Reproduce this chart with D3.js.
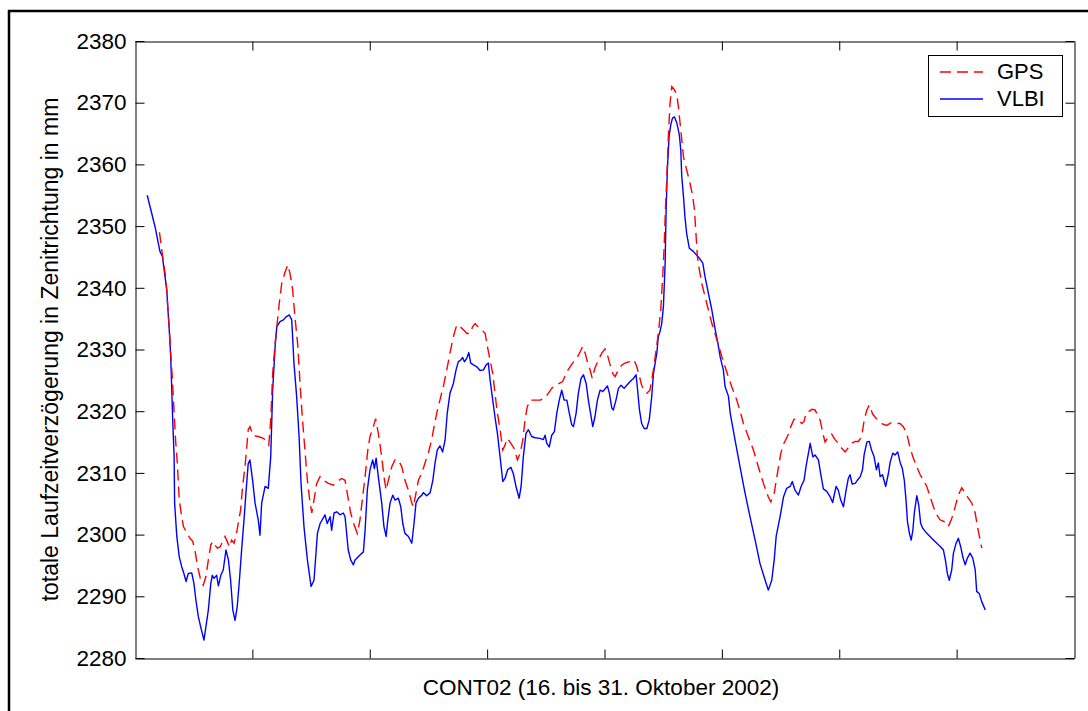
<!DOCTYPE html>
<html>
<head>
<meta charset="utf-8">
<script src="https://cdn.jsdelivr.net/npm/d3@7"></script>
<style>
  html, body { margin: 0; padding: 0; background: #fff; }
  svg { display: block; }
  text { font-family: "Liberation Sans", Arial, Helvetica, sans-serif; fill: #000; }
</style>
</head>
<body>
<svg id="chart" width="1088" height="711"></svg>
<script>
// Zenith total delay, CONT02 campaign. x = hours since 16 Oct 2002 00:00, y = mm
const seriesNames = ["GPS", "VLBI"];
const yTicks = [2280, 2290, 2300, 2310, 2320, 2330, 2340, 2350, 2360, 2370, 2380];
const xTicks = [48, 96, 144, 192, 240, 288, 336];
const xLabel = "CONT02 (16. bis 31. Oktober 2002)";
const yLabel = "totale Laufzeitverzögerung in Zenitrichtung in mm";

const gps = [
  [10.0,2349.0],[11.6,2344.2],[12.7,2341.3],[13.4,2336.9],[14.0,2333.7],[14.6,2329.4],[15.3,2325.1],
  [16.0,2319.7],[16.6,2315.3],[17.3,2311.6],[18.1,2305.6],[19.1,2302.9],[19.8,2301.3],[20.9,2300.5],
  [22.5,2299.4],[23.6,2298.9],[24.5,2297.5],[25.6,2294.8],[26.9,2292.6],[27.9,2291.8],[29.0,2293.2],
  [30.0,2295.9],[31.0,2298.3],[31.8,2298.9],[32.7,2298.3],[33.7,2297.8],[34.8,2298.0],[35.9,2298.9],
  [36.8,2299.7],[37.7,2298.9],[38.6,2298.0],[39.5,2299.1],[40.5,2298.6],[41.3,2299.7],[42.2,2301.8],
  [43.2,2304.0],[44.0,2307.8],[45.0,2311.0],[45.7,2314.2],[46.3,2317.0],[47.0,2317.5],[48.4,2316.0],
  [50.4,2315.9],[52.5,2315.6],[53.9,2315.1],[54.7,2314.5],[55.5,2318.6],[56.3,2326.1],[57.3,2331.0],
  [58.0,2333.7],[59.0,2337.5],[60.0,2340.7],[61.4,2342.6],[62.5,2343.7],[63.4,2342.3],[64.5,2339.6],
  [65.4,2335.3],[66.5,2331.0],[67.5,2324.5],[68.4,2319.1],[69.5,2313.7],[70.5,2308.8],[71.6,2305.1],
  [72.3,2303.5],[73.2,2305.6],[74.3,2308.3],[75.7,2309.4],[77.0,2308.8],[79.1,2308.3],[81.1,2308.0],
  [82.7,2308.6],[84.5,2309.1],[85.9,2308.8],[86.8,2306.7],[88.2,2303.5],[89.6,2301.6],[90.9,2300.2],
  [92.0,2302.4],[93.1,2306.1],[94.1,2309.4],[95.2,2313.7],[96.1,2315.9],[97.5,2317.5],[98.4,2318.8],
  [99.5,2316.4],[100.9,2312.6],[101.8,2309.4],[102.7,2307.2],[103.6,2308.8],[105.0,2311.0],[106.3,2312.1],
  [107.7,2312.1],[109.1,2311.0],[110.4,2308.8],[111.8,2307.2],[113.2,2305.1],[113.8,2304.5],[114.9,2306.7],
  [115.9,2308.8],[117.3,2310.0],[118.6,2311.6],[120.0,2313.3],[121.3,2315.3],[122.3,2317.5],[123.4,2319.7],
  [124.7,2321.8],[126.1,2324.0],[127.5,2326.7],[128.8,2329.4],[130.2,2332.1],[131.6,2334.0],[132.9,2333.7],
  [134.3,2333.2],[135.7,2332.6],[137.0,2332.6],[138.1,2333.7],[139.1,2334.2],[140.4,2333.6],[141.8,2333.2],
  [143.2,2332.6],[144.1,2330.5],[145.2,2328.3],[146.3,2326.1],[147.2,2322.9],[148.2,2319.7],[149.3,2317.0],
  [150.4,2313.7],[151.3,2314.5],[152.3,2315.6],[153.7,2314.8],[155.0,2314.0],[156.4,2312.1],[157.5,2313.2],
  [158.6,2315.3],[159.5,2318.6],[160.4,2320.7],[161.6,2321.8],[163.6,2321.8],[165.6,2321.8],[167.7,2322.1],
  [169.0,2322.9],[170.4,2323.7],[171.8,2324.2],[173.5,2324.5],[174.9,2324.8],[176.6,2326.4],[177.9,2327.2],
  [179.3,2328.0],[180.7,2328.6],[182.0,2329.6],[183.1,2330.5],[184.1,2329.4],[185.0,2328.0],[186.1,2326.7],
  [187.0,2325.3],[188.1,2327.0],[189.5,2328.3],[190.9,2329.4],[192.2,2330.1],[193.2,2329.1],[194.3,2327.5],
  [195.4,2326.1],[196.3,2325.6],[197.7,2326.7],[199.1,2327.5],[200.4,2327.8],[201.8,2328.0],[203.1,2328.0],
  [204.1,2328.3],[205.2,2327.2],[206.3,2325.6],[207.2,2324.2],[208.2,2323.4],[209.3,2322.9],[210.6,2323.4],
  [212.0,2326.7],[213.1,2329.9],[214.0,2332.6],[215.0,2336.4],[215.8,2341.8],[216.4,2346.7],[216.9,2352.6],
  [217.5,2358.0],[218.1,2364.5],[218.8,2369.9],[219.5,2372.6],[220.6,2372.1],[221.6,2371.2],[222.2,2369.4],
  [222.9,2366.7],[223.6,2364.0],[224.3,2361.2],[225.6,2359.1],[227.0,2356.9],[228.1,2354.8],[228.8,2352.6],
  [229.3,2349.4],[230.0,2345.0],[230.8,2342.9],[231.8,2340.7],[233.1,2338.6],[234.5,2336.4],[235.9,2334.2],
  [237.2,2332.6],[238.6,2330.7],[240.4,2328.3],[242.2,2326.1],[244.0,2324.0],[246.1,2321.8],[248.1,2319.1],
  [248.8,2318.0],[250.8,2315.9],[252.9,2313.7],[254.9,2311.0],[257.0,2308.3],[259.0,2306.1],[260.0,2305.3],
  [261.4,2306.7],[262.7,2309.9],[264.1,2313.2],[265.4,2314.8],[266.8,2315.9],[268.2,2317.5],[269.5,2318.7],
  [271.3,2318.6],[272.7,2318.0],[273.6,2318.3],[274.4,2319.7],[275.4,2319.9],[276.8,2320.3],[278.1,2320.2],
  [279.1,2319.4],[280.2,2318.5],[281.3,2316.4],[282.2,2315.0],[283.5,2315.8],[284.9,2316.3],[286.3,2315.4],
  [287.6,2314.8],[289.0,2314.0],[290.4,2313.4],[291.7,2314.1],[293.1,2314.8],[294.5,2315.1],[295.8,2315.1],
  [297.2,2315.9],[298.2,2318.6],[299.3,2320.2],[300.3,2321.0],[301.7,2319.5],[303.6,2318.6],[305.4,2318.0],
  [307.4,2317.7],[309.1,2318.1],[310.8,2318.0],[312.9,2318.0],[314.2,2317.5],[315.6,2316.4],[316.7,2314.5],
  [318.1,2312.6],[319.7,2311.0],[321.1,2309.7],[322.4,2308.8],[323.8,2307.8],[325.2,2306.1],[326.5,2304.5],
  [327.9,2303.2],[329.2,2302.4],[330.9,2302.1],[332.6,2301.3],[334.0,2302.6],[335.4,2304.5],[336.7,2306.4],
  [338.1,2307.6],[339.5,2306.7],[340.8,2305.9],[342.2,2305.1],[343.6,2303.5],[344.5,2301.3],[345.3,2299.7],
  [346.3,2297.8]
];

const vlbi = [
  [5.0,2355.0],[8.2,2349.9],[10.2,2345.9],[11.2,2345.1],[13.0,2339.6],[13.4,2336.9],[14.0,2333.2],
  [14.6,2328.8],[15.0,2324.0],[15.4,2318.8],[16.0,2312.6],[16.2,2305.1],[17.1,2299.7],[18.1,2296.4],
  [19.1,2294.8],[20.0,2293.7],[20.9,2292.4],[21.8,2293.7],[23.2,2293.8],[24.1,2292.1],[24.9,2289.4],
  [25.9,2286.7],[27.0,2284.8],[28.2,2282.9],[29.0,2285.1],[30.0,2287.8],[31.0,2292.1],[31.6,2293.4],
  [32.3,2292.9],[33.4,2293.4],[34.1,2291.7],[35.1,2293.4],[36.1,2294.3],[37.2,2297.5],[38.2,2295.9],
  [39.1,2292.6],[40.0,2287.8],[40.9,2286.1],[41.8,2288.3],[42.7,2292.6],[43.6,2297.5],[44.6,2302.5],
  [45.4,2306.9],[46.3,2311.5],[47.0,2312.1],[48.1,2308.8],[49.1,2305.1],[50.4,2302.4],[51.1,2299.9],
  [51.8,2305.1],[53.2,2307.8],[54.5,2307.5],[55.5,2312.6],[56.3,2323.4],[57.3,2330.5],[58.0,2333.7],
  [59.3,2334.5],[60.7,2334.8],[61.8,2335.3],[63.1,2335.6],[64.1,2334.8],[65.0,2327.8],[66.1,2322.4],
  [67.1,2315.9],[67.9,2308.3],[69.1,2301.3],[70.5,2295.9],[72.0,2291.6],[73.2,2292.6],[74.6,2300.2],
  [75.7,2301.8],[77.7,2303.2],[78.6,2301.8],[79.8,2302.9],[80.4,2300.7],[81.4,2303.5],[82.5,2303.7],
  [83.8,2303.2],[85.2,2303.5],[85.9,2302.9],[87.2,2297.5],[88.2,2295.9],[89.3,2295.1],[90.0,2295.9],
  [92.0,2296.7],[93.4,2297.2],[94.1,2300.7],[95.0,2307.2],[96.1,2310.5],[97.2,2312.1],[97.9,2310.7],
  [98.6,2312.4],[99.5,2309.4],[100.9,2305.1],[101.8,2301.3],[102.7,2299.7],[103.4,2302.4],[104.3,2305.1],
  [105.4,2306.4],[106.3,2305.6],[107.7,2305.9],[108.7,2304.5],[109.5,2301.8],[110.4,2300.2],[111.8,2299.7],
  [113.2,2298.6],[114.1,2301.8],[114.9,2305.1],[115.9,2305.9],[117.3,2306.4],[117.9,2306.8],[119.3,2306.3],
  [120.7,2306.8],[121.8,2308.8],[122.7,2311.6],[123.6,2313.7],[124.7,2314.4],[125.8,2313.4],[126.8,2315.3],
  [127.7,2319.7],[128.8,2322.9],[130.2,2324.5],[131.3,2326.7],[132.2,2328.0],[133.2,2328.3],[134.0,2328.7],
  [134.7,2328.0],[135.7,2328.6],[136.5,2329.5],[137.3,2327.8],[138.4,2327.5],[139.8,2327.2],[141.1,2326.6],
  [142.5,2326.7],[143.6,2327.5],[144.5,2327.8],[145.2,2325.1],[146.3,2321.8],[147.2,2319.1],[148.2,2316.4],
  [149.3,2312.6],[150.4,2308.6],[151.3,2309.1],[152.4,2310.5],[153.7,2310.9],[154.7,2309.9],[155.8,2307.8],
  [157.1,2305.9],[157.9,2307.8],[158.8,2312.6],[159.9,2316.4],[160.9,2317.0],[162.2,2315.9],[163.6,2315.7],
  [165.6,2315.6],[167.0,2315.4],[167.7,2316.1],[168.4,2314.8],[169.4,2314.2],[170.4,2316.1],[171.5,2316.7],
  [172.5,2319.7],[173.5,2321.8],[174.5,2323.4],[175.5,2321.8],[176.6,2321.8],[177.6,2319.7],[178.6,2317.8],
  [179.3,2317.5],[180.4,2319.7],[181.3,2322.9],[182.4,2325.3],[183.4,2325.9],[184.5,2324.5],[185.4,2321.8],
  [186.4,2319.4],[187.2,2317.5],[188.1,2319.1],[189.1,2321.8],[190.2,2323.4],[191.3,2323.2],[192.2,2323.6],
  [193.2,2324.1],[194.0,2322.9],[195.0,2320.5],[195.6,2320.2],[196.7,2321.8],[197.7,2323.7],[198.8,2324.2],
  [200.0,2323.7],[201.1,2324.2],[202.5,2324.8],[203.8,2325.3],[204.9,2325.9],[205.4,2324.0],[206.3,2320.2],
  [207.2,2318.0],[208.2,2317.2],[209.3,2317.2],[210.3,2318.6],[211.3,2322.3],[212.0,2326.0],[212.7,2327.8],
  [213.4,2329.4],[214.0,2332.1],[214.7,2332.9],[215.4,2334.2],[216.1,2337.0],[216.8,2344.0],[217.2,2352.6],
  [217.7,2359.1],[218.4,2364.5],[219.1,2366.4],[219.8,2367.5],[220.6,2367.7],[221.6,2366.7],[222.6,2364.8],
  [223.2,2362.3],[223.6,2358.0],[224.3,2354.8],[224.9,2351.5],[225.6,2348.8],[226.7,2346.4],[228.3,2345.9],
  [230.4,2345.0],[232.2,2344.0],[233.1,2341.8],[234.5,2339.1],[235.9,2336.4],[237.2,2333.4],[238.6,2330.5],
  [239.3,2328.8],[240.6,2326.7],[241.3,2324.0],[242.7,2322.4],[243.4,2319.7],[245.4,2315.3],[247.4,2311.0],
  [249.5,2306.7],[251.5,2302.9],[253.6,2299.1],[255.6,2295.3],[257.7,2292.6],[259.0,2291.0],[260.4,2292.6],
  [261.4,2295.9],[262.2,2299.7],[263.8,2302.9],[265.2,2306.1],[266.5,2307.5],[267.9,2307.8],[268.8,2308.6],
  [269.9,2307.2],[271.3,2306.4],[272.4,2307.8],[273.6,2308.8],[274.4,2311.0],[275.4,2313.2],[276.1,2314.8],
  [277.2,2312.6],[278.1,2312.9],[279.5,2312.1],[280.4,2309.9],[281.5,2307.4],[282.9,2307.0],[284.3,2306.1],
  [285.3,2305.2],[286.7,2307.8],[287.6,2307.2],[288.6,2305.6],[289.7,2304.5],[290.8,2307.2],[291.7,2309.1],
  [292.4,2309.7],[293.3,2308.2],[294.5,2308.3],[295.4,2308.8],[296.6,2309.4],[297.5,2310.5],[298.2,2313.0],
  [299.3,2315.0],[300.3,2315.1],[301.2,2313.7],[302.2,2312.7],[303.2,2310.5],[304.0,2311.6],[304.7,2309.4],
  [305.7,2309.7],[307.0,2307.8],[308.1,2309.9],[308.8,2311.7],[309.9,2313.2],[310.8,2312.9],[311.9,2313.4],
  [312.9,2311.7],[313.8,2310.7],[314.6,2308.8],[315.3,2305.6],[315.9,2302.1],[316.7,2300.2],[317.4,2299.1],
  [318.1,2300.7],[318.7,2303.5],[319.7,2306.3],[320.5,2304.8],[321.3,2301.8],[322.2,2301.0],[323.8,2300.2],
  [325.8,2299.4],[327.9,2298.6],[329.5,2298.0],[330.6,2297.5],[331.4,2295.9],[332.2,2293.7],[333.0,2292.6],
  [334.0,2294.3],[334.7,2297.0],[335.7,2298.5],[336.7,2299.4],[337.7,2298.0],[338.5,2296.4],[339.5,2295.1],
  [340.4,2296.2],[341.5,2297.0],[342.6,2296.2],[343.6,2294.3],[344.2,2290.8],[345.3,2290.4],[346.3,2289.1],
  [347.7,2287.8]
];

const seriesColors = { GPS: "#ff0000", VLBI: "#0000ff" };
const fontFamily = "'Liberation Sans', Arial, sans-serif";
const labelSize = 22.5;

const svg = d3.select("#chart");
const W = 1088, H = 711;
const plot = { left: 135, right: 1074, top: 41, bottom: 658 };

svg.append("rect").attr("width", W).attr("height", H).attr("fill", "#fff");

// outer figure frame (left and top edges visible)
svg.append("path")
  .attr("d", `M9,${H} V11 H${W}`)
  .attr("fill", "none").attr("stroke", "#000").attr("stroke-width", 2.5);

const x = d3.scaleLinear().domain([0, 384]).range([plot.left, plot.right]);
const y = d3.scaleLinear().domain([2280, 2380]).range([plot.bottom, plot.top]);

const tick = 9;
const axisStyle = g => {
  g.selectAll(".domain").attr("stroke", "#000").attr("stroke-width", 1);
  g.selectAll(".tick line").attr("stroke", "#000").attr("stroke-width", 1);
};

svg.append("g").attr("transform", `translate(${plot.left + 0.5},0)`)
  .call(d3.axisLeft(y).tickValues(yTicks).tickSize(-tick).tickSizeOuter(0).tickPadding(9).tickFormat(d3.format("d")))
  .call(axisStyle)
  .call(g => g.selectAll(".tick text")
    .attr("font-size", labelSize).attr("font-family", fontFamily).attr("fill", "#000"));

svg.append("g").attr("transform", `translate(${plot.right + 0.5},0)`)
  .call(d3.axisRight(y).tickValues(yTicks).tickSize(-tick).tickSizeOuter(0).tickFormat(""))
  .call(axisStyle);

svg.append("g").attr("transform", `translate(0,${plot.bottom + 0.5})`)
  .call(d3.axisBottom(x).tickValues(xTicks).tickSize(-tick).tickSizeOuter(0).tickFormat(""))
  .call(axisStyle);

svg.append("g").attr("transform", `translate(0,${plot.top + 0.5})`)
  .call(d3.axisTop(x).tickValues(xTicks).tickSize(-tick).tickSizeOuter(0).tickFormat(""))
  .call(axisStyle);

const line = d3.line().x(d => x(d[0])).y(d => y(d[1]));

svg.append("path").datum(vlbi)
  .attr("d", line).attr("fill", "none")
  .attr("stroke", seriesColors.VLBI).attr("stroke-width", 1.4).attr("stroke-linejoin", "round");

svg.append("path").datum(gps)
  .attr("d", line).attr("fill", "none")
  .attr("stroke", seriesColors.GPS).attr("stroke-width", 1.4).attr("stroke-dasharray", "11,6");

// axis titles
svg.append("text")
  .attr("x", 601).attr("y", 695)
  .attr("text-anchor", "middle").attr("font-size", labelSize)
  .text(xLabel);

svg.append("text")
  .attr("transform", `translate(58,${(plot.top + plot.bottom) / 2}) rotate(-90)`)
  .attr("text-anchor", "middle").attr("font-size", 23)
  .text(yLabel);

// legend
const lg = svg.append("g");
lg.append("rect").attr("x", 928.5).attr("y", 55.5).attr("width", 134).attr("height", 61)
  .attr("fill", "#fff").attr("stroke", "#000").attr("stroke-width", 1);
const legendRows = [
  { name: seriesNames[0], y: 72, dash: "11,6", baseline: 79 },
  { name: seriesNames[1], y: 99, dash: null, baseline: 106 }
];
legendRows.forEach(r => {
  lg.append("line").attr("x1", 940).attr("x2", 983).attr("y1", r.y).attr("y2", r.y)
    .attr("stroke", seriesColors[r.name]).attr("stroke-width", 1.4)
    .attr("stroke-dasharray", r.dash);
  lg.append("text").attr("x", 997).attr("y", r.baseline).attr("font-size", 22).text(r.name);
});
</script>
</body>
</html>
